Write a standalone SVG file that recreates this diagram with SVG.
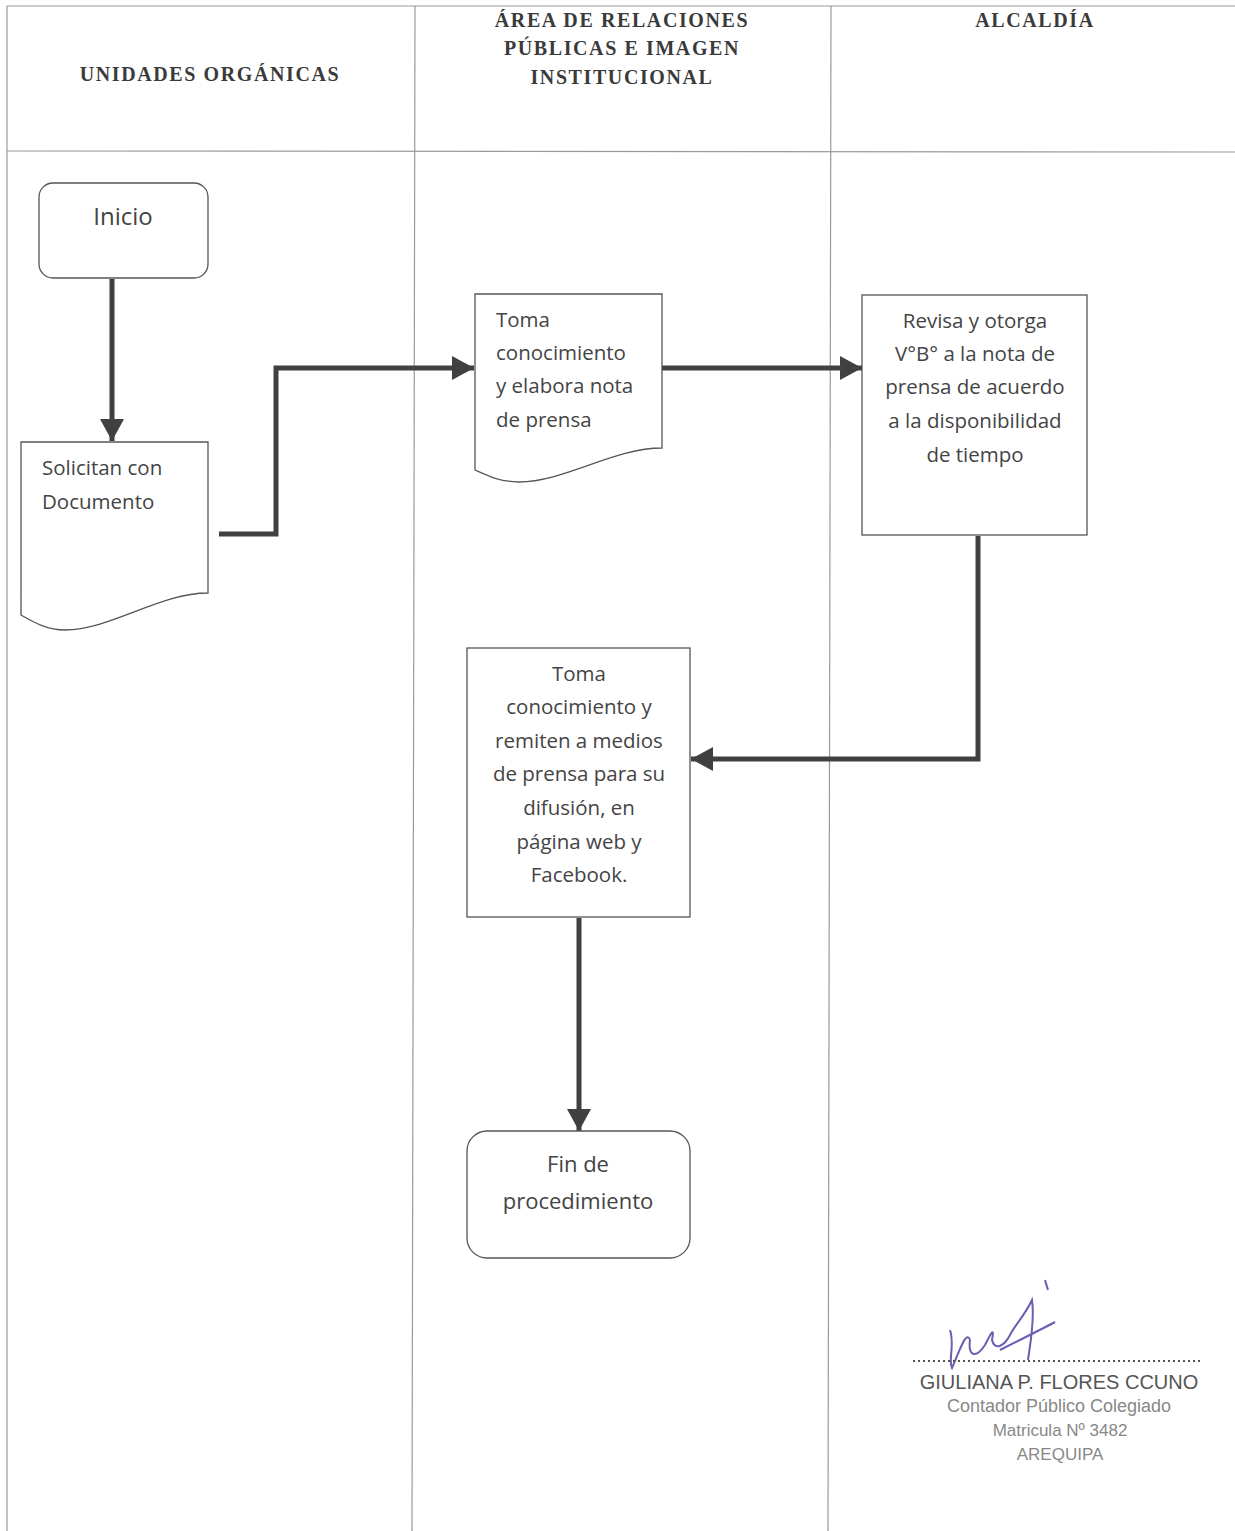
<svg xmlns="http://www.w3.org/2000/svg" width="1235" height="1531" viewBox="0 0 1235 1531">
<defs>
<style>
.lane{stroke:#9a9a9a;stroke-width:1.2;fill:none}
.hdr{font-family:"Liberation Serif",serif;font-weight:bold;font-size:20px;fill:#3a3a3a;letter-spacing:1.6px;text-anchor:middle}
.box{fill:#fff;stroke:#555;stroke-width:1.3}
.t{font-family:"Open Sans","Noto Sans",sans-serif;font-size:20.5px;fill:#444}
.c{text-anchor:middle}
.con{fill:none;stroke:#404040;stroke-width:5}
.sig{font-family:"Liberation Sans",sans-serif;fill:#666;text-anchor:middle}
</style>
<marker id="ah" markerWidth="24" markerHeight="26" refX="22" refY="13" orient="auto" markerUnits="userSpaceOnUse">
<path d="M0,1 L22,13 L0,25 Z" fill="#404040"/>
</marker>
</defs>
<rect width="1235" height="1531" fill="#fff"/>
<g id="lanes">
<line class="lane" x1="7" y1="6" x2="1235" y2="6"/>
<line class="lane" x1="7" y1="151" x2="1235" y2="152"/>
<line class="lane" x1="7" y1="6" x2="7" y2="1531"/>
<line class="lane" x1="415" y1="6" x2="412" y2="1531"/>
<line class="lane" x1="831" y1="6" x2="828" y2="1531"/>
<text class="hdr" x="210" y="81">UNIDADES ORGÁNICAS</text>
<text class="hdr" x="622" y="27">ÁREA DE RELACIONES</text>
<text class="hdr" x="622" y="55">PÚBLICAS E IMAGEN</text>
<text class="hdr" x="622" y="84">INSTITUCIONAL</text>
<text class="hdr" x="1035" y="27">ALCALDÍA</text>
</g>
<g id="connectors">
<line class="con" x1="112" y1="279" x2="112" y2="441" marker-end="url(#ah)"/>
<polyline class="con" points="219,534 276,534 276,368 474,368" marker-end="url(#ah)"/>
<line class="con" x1="662" y1="368" x2="862" y2="368" marker-end="url(#ah)"/>
<polyline class="con" points="978,536 978,759 691,759" marker-end="url(#ah)"/>
<line class="con" x1="579" y1="918" x2="579" y2="1131" marker-end="url(#ah)"/>
</g>
<g id="inicio">
<rect class="box" x="39" y="183" width="169" height="95" rx="14"/>
<text class="t c" x="123" y="225" style="font-size:24px">Inicio</text>
</g>
<g id="solicitan">
<path class="box" d="M21,442 H208 V593 C160,593 110,630 65,630 C45,630 30,620 21,615 Z"/>
<text class="t" x="42" y="475">Solicitan con</text>
<text class="t" x="42" y="509">Documento</text>
</g>
<g id="toma1">
<path class="box" d="M475,294 H662 V448 C614,448 564,482 519,482 C499,482 484,474 475,470 Z"/>
<text class="t" x="496" y="327">Toma</text>
<text class="t" x="496" y="360">conocimiento</text>
<text class="t" x="496" y="393">y elabora nota</text>
<text class="t" x="496" y="427">de prensa</text>
</g>
<g id="revisa">
<rect class="box" x="862" y="295" width="225" height="240"/>
<text class="t c" x="975" y="328">Revisa y otorga</text>
<text class="t c" x="975" y="361">V°B° a la nota de</text>
<text class="t c" x="975" y="394">prensa de acuerdo</text>
<text class="t c" x="975" y="428">a la disponibilidad</text>
<text class="t c" x="975" y="462">de tiempo</text>
</g>
<g id="toma2">
<rect class="box" x="467" y="648" width="223" height="269"/>
<text class="t c" x="579" y="681">Toma</text>
<text class="t c" x="579" y="714">conocimiento y</text>
<text class="t c" x="579" y="748">remiten a medios</text>
<text class="t c" x="579" y="781">de prensa para su</text>
<text class="t c" x="579" y="815">difusión, en</text>
<text class="t c" x="579" y="849">página web y</text>
<text class="t c" x="579" y="882">Facebook.</text>
</g>
<g id="fin">
<rect class="box" x="467" y="1131" width="223" height="127" rx="20"/>
<text class="t c" x="578" y="1172" style="font-size:22px">Fin de</text>
<text class="t c" x="578" y="1209" style="font-size:22px">procedimiento</text>
</g>
<g id="firma">
<path d="M950,1330 C955,1345 948,1360 952,1368 C960,1350 966,1330 970,1340 C968,1355 975,1360 985,1345 C990,1335 995,1325 992,1340 C995,1352 1005,1345 1010,1335 C1015,1325 1025,1315 1032,1300 C1035,1320 1030,1345 1028,1360 M1000,1350 C1020,1340 1040,1330 1055,1322 M1045,1280 L1048,1290" fill="none" stroke="#6a5fb0" stroke-width="2"/>
<line x1="913" y1="1361" x2="1200" y2="1361" stroke="#555" stroke-width="2" stroke-dasharray="2,3"/>
<text class="sig" x="1059" y="1389" style="font-size:20px;fill:#555">GIULIANA P. FLORES CCUNO</text>
<text class="sig" x="1059" y="1412" style="font-size:18px;fill:#888">Contador Público Colegiado</text>
<text class="sig" x="1060" y="1436" style="font-size:17px;fill:#888">Matricula Nº 3482</text>
<text class="sig" x="1060" y="1460" style="font-size:17px;fill:#888">AREQUIPA</text>
</g>
</svg>
